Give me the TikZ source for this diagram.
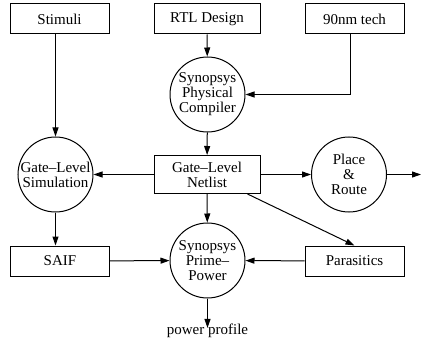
\documentclass[tikz,border=0pt]{standalone}
\usepackage{fontspec}
\setmainfont{Liberation Serif}
\usetikzlibrary{positioning, arrows.meta}

\tikzset{
  every node/.style={font=\rmfamily\fontsize{15}{15}\selectfont},
  box/.style={draw, line width=1pt, minimum width=99pt, minimum height=30pt, inner sep=0pt, align=center},
  tool/.style={draw, circle, line width=1pt, minimum size=75pt, inner sep=0pt, align=center},
  flow/.style={-{Triangle[length=9pt,width=6pt]}, line width=1pt},
}

\begin{document}
\begin{tikzpicture}[x=1pt,y=-1pt]
  \useasboundingbox (0,0) rectangle (421,345);

  % inputs
  \node[box] (stim) at (59.5,19) {Stimuli};
  \node[box, minimum width=106pt] (rtl) at (207,19) {RTL Design};
  \node[box] (tech) at (354.5,19) {90nm tech};

  % synthesis
  \node[tool] (spc) at (207.5,94.5) {Synopsys\\Physical\\Compiler};
  \node[box, minimum width=106pt, minimum height=38pt] (net) at (207,174.5) {Gate--Level\\Netlist};
  \node[tool] (sim) at (55.5,174.5) {Gate--Level\\Simulation};
  \node[tool] (pnr) at (349,174.5) {Place\\\&\\Route};
  \coordinate (out) at (421,174.5);

  % power
  \node[box] (saif) at (60,261) {SAIF};
  \node[tool] (spp) at (207.5,260.5) {Synopsys\\Prime--\\Power};
  \node[box] (para) at (354.5,261) {Parasitics};
  \node[inner sep=0pt] (prof) at (207.5,331) {power profile};

  \draw[flow] (rtl) -- (spc);
  \draw[flow] ([xshift=-4.5pt]tech.south) |- (spc.east);
  \draw[flow] (stim.south -| sim) -- (sim);
  \draw[flow] (spc) -- (net);
  \draw[flow] (net) -- (sim);
  \draw[flow] (net) -- (pnr);
  \draw[flow] (pnr) -- (out);
  \draw[flow] (net) -- (para.north);
  \draw[flow] (sim) -- (saif.north -| sim);
  \draw[flow] (net) -- (spp);
  \draw[flow] (saif) -- (spp);
  \draw[flow] (para) -- (spp);
  \draw[flow] (spp) -- ([yshift=-4pt]prof.north);
\end{tikzpicture}
\end{document}
